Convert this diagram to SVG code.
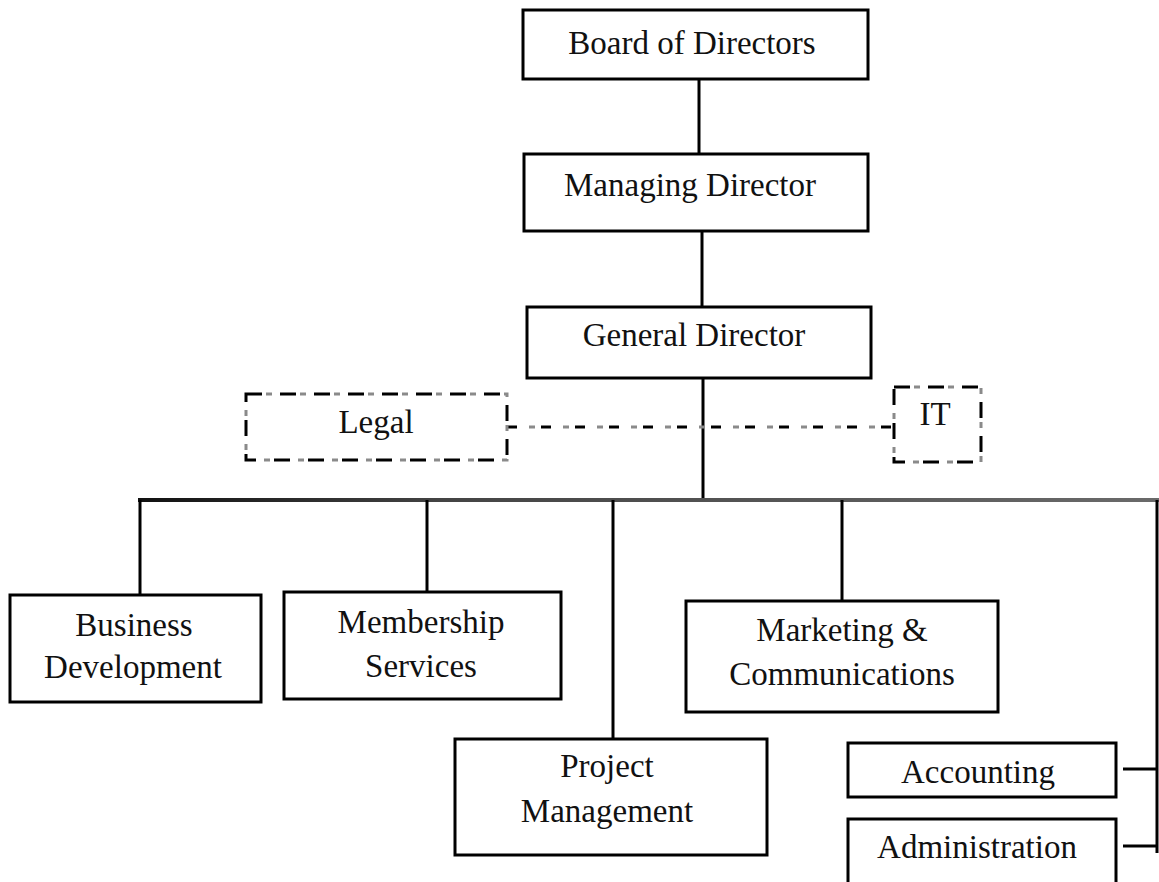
<svg xmlns="http://www.w3.org/2000/svg" width="1159" height="882" viewBox="0 0 1159 882">
<defs>
<style>
.box{fill:#fff;stroke:#000;stroke-width:3}
.t{font-family:"Liberation Serif","Times New Roman",serif;font-size:33px;fill:#111;text-anchor:middle}
.c{stroke:#000;stroke-width:3;fill:none}
.dg{fill:none;stroke:#8a8a8a;stroke-width:3;stroke-dasharray:0 20 6 8}
.db{fill:none;stroke:#000;stroke-width:3;stroke-dasharray:16 18}
</style>
<linearGradient id="bus" gradientUnits="userSpaceOnUse" x1="138" y1="0" x2="1159" y2="0">
<stop offset="0" stop-color="#111"/>
<stop offset="0.3" stop-color="#444"/>
<stop offset="1" stop-color="#6a6a6a"/>
</linearGradient>
</defs>
<rect width="1159" height="882" fill="#fff"/>
<g id="connectors">
<line class="c" x1="699" y1="79" x2="699" y2="154"/>
<line class="c" x1="702" y1="231" x2="702" y2="307"/>
<line class="c" x1="703" y1="378" x2="703" y2="500"/>
<line x1="138" y1="500" x2="1159" y2="500" stroke="url(#bus)" stroke-width="4"/>
<line class="c" x1="140" y1="500" x2="140" y2="595"/>
<line class="c" x1="427" y1="500" x2="427" y2="592"/>
<line class="c" x1="613" y1="500" x2="613" y2="739"/>
<line class="c" x1="842" y1="500" x2="842" y2="601"/>
<line class="c" x1="1157" y1="500" x2="1157" y2="853"/>
<line class="c" x1="1123" y1="769" x2="1157" y2="769"/>
<line class="c" x1="1123" y1="846" x2="1157" y2="846"/>
<line x1="507" y1="427" x2="894" y2="427" stroke="#8a8a8a" stroke-width="3" stroke-dasharray="0 22 6 6"/>
<line x1="507" y1="427" x2="894" y2="427" stroke="#000" stroke-width="3" stroke-dasharray="10 24"/>
</g>
<g id="board">
<rect class="box" x="523" y="10" width="345" height="69"/>
<text class="t" x="692" y="54">Board of Directors</text>
</g>
<g id="managing">
<rect class="box" x="524" y="154" width="344" height="77"/>
<text class="t" x="690" y="196">Managing Director</text>
</g>
<g id="general">
<rect class="box" x="527" y="307" width="344" height="71"/>
<text class="t" x="694" y="346">General Director</text>
</g>
<g id="legal">
<rect class="dg" x="246" y="394" width="261" height="66"/>
<rect class="db" x="246" y="394" width="261" height="66"/>
<text class="t" x="376" y="433">Legal</text>
</g>
<g id="it">
<rect class="dg" x="894" y="387" width="87" height="75"/>
<rect class="db" x="894" y="387" width="87" height="75"/>
<text class="t" x="935" y="425">IT</text>
</g>
<g id="business">
<rect class="box" x="10" y="595" width="251" height="107"/>
<text class="t" x="134" y="636">Business</text>
<text class="t" x="133" y="678">Development</text>
</g>
<g id="membership">
<rect class="box" x="284" y="592" width="277" height="107"/>
<text class="t" x="421" y="633">Membership</text>
<text class="t" x="421" y="677">Services</text>
</g>
<g id="marketing">
<rect class="box" x="686" y="601" width="312" height="111"/>
<text class="t" x="842" y="641">Marketing &amp;</text>
<text class="t" x="842" y="685">Communications</text>
</g>
<g id="project">
<rect class="box" x="455" y="739" width="312" height="116"/>
<text class="t" x="607" y="777">Project</text>
<text class="t" x="607" y="822">Management</text>
</g>
<g id="accounting">
<rect class="box" x="848" y="743" width="268" height="54"/>
<text class="t" x="978" y="783">Accounting</text>
</g>
<g id="administration">
<rect class="box" x="848" y="819" width="268" height="80"/>
<text class="t" x="977" y="858">Administration</text>
</g>
</svg>
